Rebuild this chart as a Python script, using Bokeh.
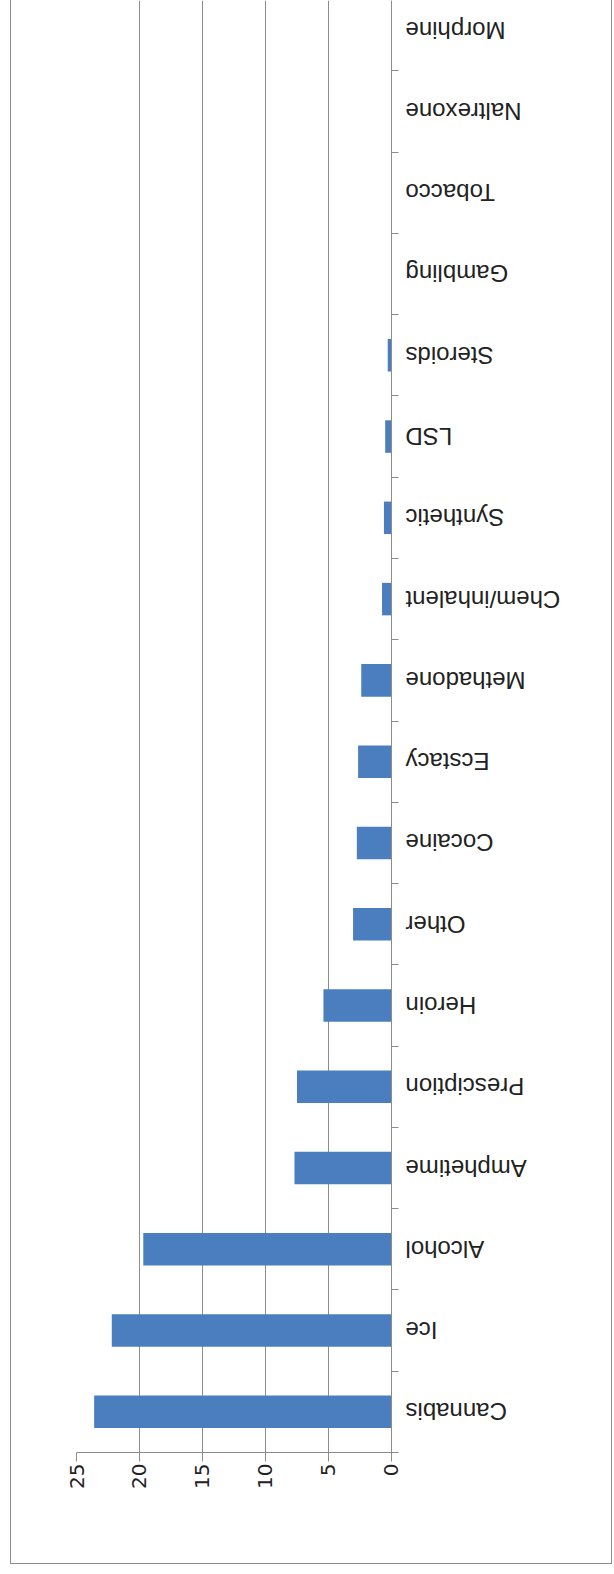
import math
from bokeh.plotting import figure
from bokeh.models import (Range1d, LinearAxis, FixedTicker, InlineStyleSheet,
                          ColumnDataSource)
from bokeh.core.properties import value
from bokeh.embed import file_html
from bokeh.resources import INLINE

categories = ["Cannabis", "Ice", "Alcohol", "Amphetime", "Presciption", "Heroin",
              "Other", "Cocaine", "Ecstacy", "Methadone", "Chem/inhalent",
              "Synthetic", "LSD", "Steroids", "Gambling", "Tobacco",
              "Naltrexone", "Morphine"]
values = [23.6, 22.2, 19.7, 7.7, 7.5, 5.4, 3.05, 2.75, 2.65, 2.4, 0.75,
          0.6, 0.5, 0.3, 0, 0, 0, 0]
value_ticks = [0, 5, 10, 15, 20, 25]

BAR = "#4a7ebf"
GRID = "#8c8c8c"
TEXT = "#222222"

# category slots: each category occupies one unit, labelled at its centre
slot_centers = [i + 0.5 for i in range(len(categories))]
slot_bounds = list(range(len(categories) + 1))

src = ColumnDataSource(dict(cat=categories, val=values, pos=slot_centers,
                            base=[0] * len(categories)))

p = figure(width=614, height=1574,
           x_range=Range1d(25, -17.7),
           y_range=Range1d(0, len(categories) - 0.135),
           output_backend="svg", toolbar_location=None,
           x_axis_location=None, y_axis_location=None,
           min_border_left=76, min_border_right=0,
           min_border_top=0, min_border_bottom=122)
p.outline_line_color = None
p.background_fill_color = None
p.border_fill_color = None

p.hbar(y="pos", left="base", right="val", height=0.4, source=src,
       fill_color=BAR, line_color=None)

# value axis (below)
xax = LinearAxis(ticker=FixedTicker(ticks=value_ticks), bounds=(-0.55, 25))
xax.axis_line_color = GRID
xax.major_tick_line_color = GRID
xax.major_tick_out = 9
xax.major_tick_in = 0
xax.minor_tick_line_color = None
xax.major_label_orientation = math.pi / 2
xax.major_label_standoff = 2
xax.major_label_text_font = "DejaVu Sans"
xax.major_label_text_font_size = "20px"
xax.major_label_text_color = TEXT
p.add_layout(xax, "below")

# category axis at value 0: line and tick marks between categories
yax = LinearAxis(fixed_location=0,
                 ticker=FixedTicker(ticks=[], minor_ticks=slot_bounds))
yax.axis_line_color = GRID
yax.major_tick_line_color = None
yax.minor_tick_line_color = GRID
yax.minor_tick_in = 7
yax.minor_tick_out = 0
yax.major_label_text_color = None
p.add_layout(yax, "left")

# category labels, upside down, next to the axis
p.text(x="base", y="pos", text="cat", source=src,
       x_offset=14, angle=math.pi,
       text_align="right", text_baseline="middle",
       text_font=value("Liberation Sans"), text_font_size="24px",
       text_color=TEXT)

p.xgrid.ticker = FixedTicker(ticks=value_ticks)
p.xgrid.grid_line_color = GRID
p.ygrid.grid_line_color = None

p.stylesheets = [InlineStyleSheet(css=":host{position:relative;background:white;} :host::after{content:'';position:absolute;left:10px;right:2px;top:-20px;bottom:10px;border:1px solid #8c8c8c;pointer-events:none;}")]

open("out.html", "w").write(file_html(p, INLINE))
